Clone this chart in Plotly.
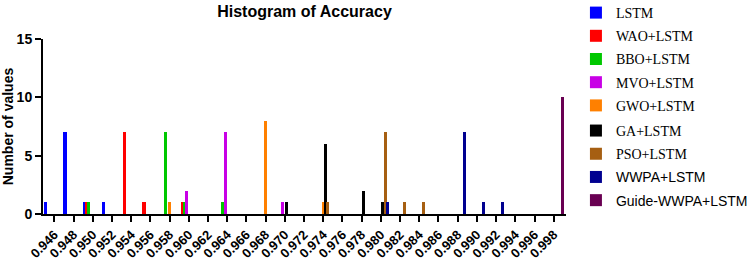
import plotly.graph_objects as go

bins = ["0.946", "0.948", "0.950", "0.952", "0.954", "0.956", "0.958", "0.960", "0.962",
        "0.964", "0.966", "0.968", "0.970", "0.972", "0.974", "0.976", "0.978", "0.980",
        "0.982", "0.984", "0.986", "0.988", "0.990", "0.992", "0.994", "0.996", "0.998"]

series_names = ["LSTM", "WAO+LSTM", "BBO+LSTM", "MVO+LSTM", "GWO+LSTM", "GA+LSTM",
                "PSO+LSTM", "WWPA+LSTM", "Guide-WWPA+LSTM"]

lstm_x = ["0.946", "0.948", "0.950", "0.952"]
lstm_y = [1, 7, 1, 1]
wao_x = ["0.950", "0.954", "0.956", "0.960"]
wao_y = [1, 7, 1, 1]
bbo_x = ["0.950", "0.958", "0.960", "0.964"]
bbo_y = [1, 7, 1, 1]
mvo_x = ["0.960", "0.964", "0.970"]
mvo_y = [2, 7, 1]
gwo_x = ["0.958", "0.968", "0.974"]
gwo_y = [1, 8, 1]
ga_x = ["0.970", "0.974", "0.978", "0.980"]
ga_y = [1, 6, 2, 1]
pso_x = ["0.974", "0.980", "0.982", "0.984"]
pso_y = [1, 7, 1, 1]
wwpa_x = ["0.980", "0.988", "0.990", "0.992"]
wwpa_y = [1, 7, 1, 1]
guide_x = ["0.998"]
guide_y = [10]

colors = ["#0000FF", "#FF0000", "#00C800", "#C800E6", "#FF8000", "#000000",
          "#A65F12", "#000090", "#690052"]
legend_fonts = ["Liberation Serif"] * 7 + ["Liberation Sans"] * 2
legend_ids = ["legend"] * 5 + ["legend2"] * 4

data = [(lstm_x, lstm_y), (wao_x, wao_y), (bbo_x, bbo_y), (mvo_x, mvo_y), (gwo_x, gwo_y),
        (ga_x, ga_y), (pso_x, pso_y), (wwpa_x, wwpa_y), (guide_x, guide_y)]

fig = go.Figure()
for i, ((xs, ys), name) in enumerate(zip(data, series_names)):
    fig.add_trace(go.Bar(
        x=xs, y=ys,
        name=f"<span style='font-family:{legend_fonts[i]}'>{name}</span>",
        marker=dict(color=colors[i], line=dict(width=0)),
        width=0.16,
        legendgroup=f"g{i}",
        legend=legend_ids[i],
    ))

axis_font = dict(family="Liberation Sans, Arial", size=13, color="black")
legend_style = dict(xanchor="left", yanchor="top",
                    font=dict(family="Liberation Serif", size=14, color="black"),
                    tracegroupgap=2, bgcolor="rgba(0,0,0,0)", itemwidth=30)

fig.update_layout(
    width=754, height=258,
    margin=dict(l=43, r=188, t=39, b=44, autoexpand=False),
    paper_bgcolor="white", plot_bgcolor="white",
    barmode="group", bargap=0, bargroupgap=0,
    title=dict(text="<b>Histogram of Accuracy</b>", x=0.5, xref="paper",
               y=0.978, yanchor="top",
               font=dict(family="Liberation Sans, Arial", size=16, color="black")),
    legend=dict(x=1.019, y=1.24, **legend_style),
    legend2=dict(x=1.019, y=0.566, **legend_style),
    showlegend=True,
)

fig.update_xaxes(
    type="category", categoryorder="array", categoryarray=bins,
    tickmode="array", tickvals=bins, ticktext=[f"<b>{b}</b>" for b in bins],
    range=[-0.59, 26.64],
    showline=True, linecolor="black", linewidth=2,
    ticks="outside", ticklen=6, tickwidth=2, tickcolor="black",
    tickangle=-45, tickfont=axis_font, showgrid=False, zeroline=False,
    automargin=False,
)
fig.update_yaxes(
    range=[0, 15], tickvals=[0, 5, 10, 15], ticktext=["<b>0</b>", "<b>5</b>", "<b>10</b>", "<b>15</b>"],
    showline=True, linecolor="black", linewidth=2,
    ticks="outside", ticklen=6, tickwidth=2, tickcolor="black",
    tickfont=dict(family="Liberation Sans, Arial", size=14, color="black"),
    title=dict(text="<b>Number of values</b>", standoff=4,
               font=dict(family="Liberation Sans, Arial", size=14, color="black")),
    showgrid=False, zeroline=False, automargin=False,
)

fig.write_html("out.html", config={"displayModeBar": False},
               post_script="document.body.style.margin='0';document.body.style.overflow='hidden';")
